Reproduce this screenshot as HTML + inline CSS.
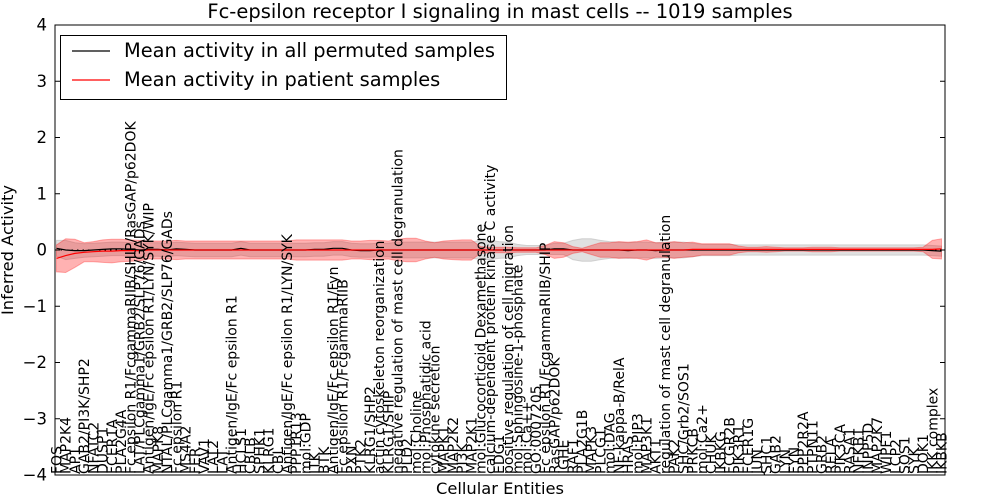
<!DOCTYPE html>
<html><head><meta charset="utf-8"><style>
html,body{margin:0;padding:0;background:#fff;}
svg{display:block;font-family:"DejaVu Sans","Liberation Sans",sans-serif;}
</style></head><body>
<svg id="chart" width="1000" height="500" viewBox="0 0 1000 500" xmlns="http://www.w3.org/2000/svg">
<rect x="0" y="0" width="1000" height="500" fill="#fff"/>
<text x="500" y="18" font-size="19.5" text-anchor="middle">Fc-epsilon receptor I signaling in mast cells -- 1019 samples</text>
<text x="0" y="0" transform="translate(13,250) rotate(-90)" font-size="16.3" text-anchor="middle">Inferred Activity</text>
<text x="500" y="494" font-size="16.3" text-anchor="middle">Cellular Entities</text>
<g id="bands"></g>
<g id="lines"></g>
<g id="labels"></g>
<g id="axes"></g>
<g>
<rect x="60.5" y="35.5" width="446" height="64" fill="#fff" stroke="#000" stroke-width="1"/>
<line x1="72" y1="51" x2="110" y2="51" stroke="#000" stroke-width="1.2"/>
<text x="124" y="57" font-size="19.4">Mean activity in all permuted samples</text>
<line x1="72" y1="80" x2="110" y2="80" stroke="#f00" stroke-width="1.2"/>
<text x="124" y="86" font-size="19.4">Mean activity in patient samples</text>
</g>
</svg>
<script>
const categories = ["FOS","MAP2K4","AP1","GAB2/PI3K/SHP2","NFATC2","DUSP1","FCER1A","PLA2G4A","Fc epsilon R1/FcgammaRIIB/SHIP/RasGAP/p62DOK","LAT/PLCgamma1/GRB2/SLP76/GADs","Antigen/IgE/Fc epsilon R1/LYN/SYK/WIP","MAPK8","NTAL/PLCgamma1/GRB2/SLP76/GADs","Fc epsilon R1","MS4A2","FER","VAV1","LAT2","LAT","Antigen/IgE/Fc epsilon R1","HCLS1","CBLB","SPHK1","KLRG1","CBL","Antigen/IgE/Fc epsilon R1/LYN/SYK","PPP1R13","mol:GDP","ITK","BTK","Antigen/IgE/Fc epsilon R1/Fyn","Fc epsilon R1/FcgammaRIIB","PXN","PTK2","KLRG1/SHP2","actin cytoskeleton reorganization","KLRG1/SHIP","negative regulation of mast cell degranulation","PLD2","mol:Choline","mol:Phosphatidic acid","cytokine secretion","MAPK1","MAP2K2","PI3K","MAP2K1","mol:Glucocorticoid Dexamethasone","calcium-dependent protein kinase C activity","EDG1","positive regulation of cell migration","mol:Sphingosine-1-phosphate","mol:Ca++","GO:0007205","Fc epsilon R1/FcgammaRIIB/SHIP","RasGAP/p62DOK","IGHE","RAF1","PLA2G1B","MAPK3","PLCG1","mol:DAG","NF-kappa-B/RelA","HRAS","mol:PIP3","MAP3K1","AKT1","regulation of mast cell degranulation","PAK2","SHC/Grb2/SOS1","PRKCB","mol:Ca2+","CHUK","IKBKG","FCGR2B","PIK3R1","FCER1G","JUN","SHC1","GAB2","LYN","FYN","PPP2R2A","PTPN11","GRB2","RELA","PIK3CA","RASA1","NFKB1","INPP5D","MAP2K7","WIPF1","LCP2","SOS1","SYK","DOK1","IKK complex","IKBKB"];
const permMean = [0.03,0.0,-0.01,-0.01,0,0.01,0.02,0.02,0.01,0,0.01,0.01,0,0.02,0.01,0,0,0,0,0,0.03,0,0,0,0,0,0,0,0.01,0.01,0.03,0.03,0,-0.01,-0.01,0,0,0,0,0,0,0,0,0,0,0,0,0,0,0,0,0,0,0,0.02,0.02,0,0,0,0,0,0,-0.01,0,0,-0.01,0,0,0,0,0,0,0,0,0,0,0,0,0,0,0,0,0,0,0,0,0,0,0,0,0,0,0,0,0,-0.01,-0.02];
const patMean = [-0.15,-0.1,-0.06,-0.04,-0.03,-0.02,-0.02,-0.01,-0.01,-0.01,0,0,0,0,0,0,0,0,0,0,0,0,0,0,0,0,0,0,0,0,0,0,0,0,0,0,0,0,0,0,0,0,0,0,0,0,0,0,0,0,0,0,0,0,0,0,0,0,0,0,0,0,0,0,0,0,0,0,0,0.01,0.01,0.01,0.01,0.01,0.01,0.01,0.01,0.01,0.01,0.01,0.01,0.01,0.01,0.01,0.01,0.01,0.01,0.01,0.01,0.01,0.01,0.01,0.01,0.01,0.01,0.01,0.02];
const patSd = [0.24,0.3,0.25,0.17,0.18,0.2,0.21,0.2,0.19,0.18,0.16,0.16,0.16,0.17,0.16,0.16,0.16,0.16,0.16,0.16,0.16,0.16,0.16,0.16,0.16,0.16,0.18,0.18,0.18,0.18,0.18,0.18,0.16,0.16,0.17,0.17,0.16,0.19,0.21,0.21,0.16,0.13,0.16,0.17,0.18,0.18,0.06,0.05,0.05,0.05,0.04,0.04,0.04,0.08,0.15,0.13,0.06,0.03,0.08,0.13,0.13,0.15,0.14,0.15,0.18,0.13,0.13,0.15,0.13,0.13,0.1,0.1,0.1,0.1,0.06,0.04,0.04,0.05,0.04,0.03,0.03,0.03,0.04,0.04,0.04,0.03,0.03,0.03,0.03,0.03,0.03,0.03,0.03,0.03,0.04,0.16,0.18];
const permSd = [0.14,0.17,0.14,0.12,0.12,0.12,0.12,0.12,0.12,0.12,0.12,0.12,0.12,0.12,0.12,0.12,0.12,0.12,0.12,0.12,0.12,0.12,0.12,0.12,0.12,0.12,0.12,0.12,0.12,0.12,0.12,0.12,0.12,0.12,0.12,0.12,0.12,0.14,0.14,0.14,0.14,0.14,0.14,0.14,0.14,0.14,0.17,0.17,0.15,0.14,0.1,0.08,0.08,0.08,0.1,0.1,0.17,0.2,0.2,0.17,0.15,0.14,0.14,0.14,0.14,0.14,0.14,0.14,0.14,0.12,0.1,0.1,0.1,0.1,0.09,0.09,0.09,0.09,0.09,0.09,0.09,0.09,0.09,0.09,0.09,0.09,0.09,0.09,0.09,0.09,0.09,0.09,0.09,0.09,0.09,0.09,0.09];
const yTicks = [4,3,2,1,0,-1,-2,-3,-4];

const L=55,R=945,T=25,B=475,X0=56.5,X1=941.5;
const NS='http://www.w3.org/2000/svg';
function xs(i){return X0+(X1-X0)*i/(categories.length-1);}
function ys(v){return T+(4-v)*(B-T)/8;}
function mk(tag,attrs,parent){const e=document.createElementNS(NS,tag);for(const k in attrs)e.setAttribute(k,attrs[k]);parent.appendChild(e);return e;}
function band(mean,sd){let up=[],dn=[];for(let i=0;i<mean.length;i++){up.push(xs(i).toFixed(1)+','+ys(mean[i]+sd[i]).toFixed(1));dn.unshift(xs(i).toFixed(1)+','+ys(mean[i]-sd[i]).toFixed(1));}return up.concat(dn).join(' ');}
function line(mean){return mean.map((v,i)=>xs(i).toFixed(1)+','+ys(v).toFixed(1)).join(' ');}
const bands=document.getElementById('bands');
const pb=mk('polygon',{points:band(permMean,permSd),fill:'#bbbbbb','fill-opacity':'0.45',stroke:'#bbbbbb','stroke-opacity':'0.6'},bands);


const rb=mk('polygon',{points:band(patMean,patSd),fill:'#ff0000','fill-opacity':'0.3',stroke:'#ff0000','stroke-opacity':'0.3'},bands);


const lines=document.getElementById('lines');
const zl=mk('line',{x1:L,x2:R,y1:ys(0),y2:ys(0),stroke:'#000','stroke-dasharray':'1.5,4','stroke-width':1},lines);


const pl=mk('polyline',{points:line(permMean),fill:'none',stroke:'#000','stroke-width':1.2},lines);


const rl=mk('polyline',{points:line(patMean),fill:'none',stroke:'#f00','stroke-width':1.2},lines);


const labels=document.getElementById('labels');
categories.forEach((c,i)=>{
  const t=mk('text',{x:0,y:0,transform:'translate('+(xs(i)+5).toFixed(1)+','+(B-1)+') rotate(-90)','font-size':'14'},labels);
  t.textContent=c;
  
  
});
const axes=document.getElementById('axes');
const fr=mk('rect',{x:L,y:T,width:R-L,height:B-T,fill:'none',stroke:'#000','stroke-width':1},axes);


yTicks.forEach(v=>{
  const y=ys(v);
  mk('line',{x1:L,x2:L+5,y1:y,y2:y,stroke:'#000'},axes);
  mk('line',{x1:R-5,x2:R,y1:y,y2:y,stroke:'#000'},axes);
  const t=mk('text',{x:L-8,y:y+5.5,'font-size':'16.5','text-anchor':'end'},axes);
  t.textContent=(v<0?'\u2212'+(-v):String(v));
  
  
});
</script>
</body></html>
